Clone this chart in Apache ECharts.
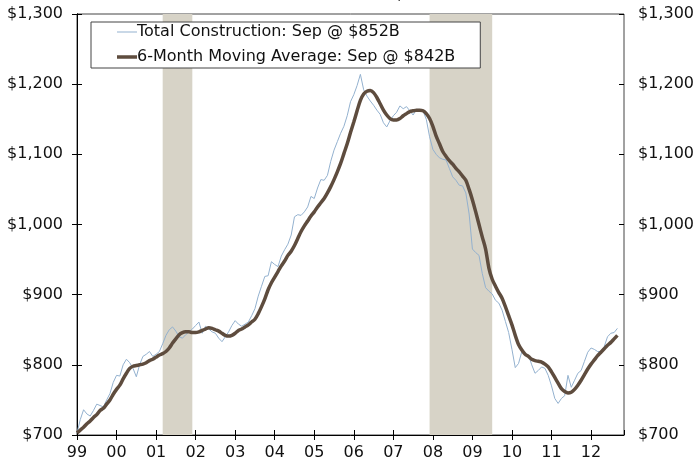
<!DOCTYPE html>
<html>
<head>
<meta charset="utf-8">
<script src="https://cdn.jsdelivr.net/npm/echarts@6/dist/echarts.min.js"></script>
<style>
  html, body { margin: 0; padding: 0; background: #fff; }
  #chart { width: 693px; height: 465px; }
</style>
</head>
<body>
<div id="chart"></div>
<script>
  // months counted from Jan 1999 (index 0) to Sep 2012 (index 164)
  const yearTicks = ['99', '00', '01', '02', '03', '04', '05', '06', '07', '08', '09', '10', '11', '12'];
  const yTicks = [700, 800, 900, 1000, 1100, 1200, 1300];

  // Total construction, billions of dollars, monthly
  const totalConstruction = [
    703, 722, 736, 730, 727, 735, 744, 742, 740, 750, 759, 775,
    785, 784, 800, 808, 803, 795, 783, 800, 812, 815, 819, 812,
    815, 819, 830, 842, 850, 854, 848, 840, 838, 843, 847, 851,
    856, 861, 845, 855, 851, 847, 845, 838, 833, 840, 847, 856,
    863, 858, 855, 858, 861, 870, 880, 898, 912, 926, 927, 947,
    943, 940, 955, 964, 972, 985, 1011, 1014, 1013, 1018, 1025, 1040,
    1037, 1052, 1064, 1063, 1070, 1090, 1106, 1118, 1130, 1140, 1155, 1175,
    1185, 1198, 1214, 1192, 1183, 1176, 1170, 1163, 1157, 1145, 1139, 1148,
    1155, 1160, 1169, 1165, 1168, 1162, 1156, 1164, 1164, 1162, 1150, 1125,
    1107, 1100, 1095, 1093, 1092, 1080, 1068, 1063, 1056, 1055, 1045, 1015,
    965, 960, 956, 930, 910, 905, 901, 892, 888, 878, 862, 846,
    822, 796, 802, 819, 815, 814, 800, 788, 792, 797, 795, 785,
    770, 752, 745, 752, 756, 785, 768, 778, 788, 792, 805, 818,
    824, 822, 819, 819, 826, 840, 845, 846, 852
  ];

  // 6-month moving average
  const movingAverage = [
    703, 707, 711, 716, 720, 725, 729, 735, 738, 744, 750, 758,
    765, 771, 780, 788, 795, 798, 799, 800, 801, 803, 806, 808,
    811, 814, 816, 819, 824, 831, 837, 843, 846, 847, 847, 846,
    846, 847, 849, 851, 853, 852, 850, 848, 845, 842, 841, 842,
    845, 849, 851, 854, 857, 861, 865, 873, 883, 894, 907, 917,
    925, 933, 941, 948, 956, 962, 970, 980, 990, 998, 1005, 1012,
    1018, 1025, 1031, 1037, 1045, 1054, 1064, 1075, 1087, 1101, 1115, 1131,
    1146, 1162, 1177, 1186, 1190, 1191, 1188, 1181, 1172, 1163, 1156, 1151,
    1149, 1149, 1151, 1155, 1158, 1161, 1162, 1163, 1163, 1162, 1158, 1151,
    1140, 1126, 1115, 1104, 1097, 1091, 1086, 1080, 1075, 1069, 1063, 1050,
    1035, 1018, 1000, 982, 965, 938, 922, 912, 903, 895, 883, 870,
    857, 842, 829, 821, 815, 812, 808, 806, 805, 804, 801, 797,
    790, 782, 774, 766, 762, 760, 761, 765, 771, 778, 786, 794,
    801, 807, 813, 818, 823, 828, 832, 837, 842
  ];

  // recessions, as month indexes [start, end]
  const recessions = [[26, 35], [107, 126]];

  const names = ['Total Construction: Sep @ $852B', '6-Month Moving Average: Sep @ $842B'];
  const colors = ['#93b1cf', '#5e4c3e'];

  const fontFamily = '"DejaVu Sans", Verdana, sans-serif';
  const money = v => '$' + v.toLocaleString('en-US');
  // line-shaped legend icons (corner specks keep the path from being stretched)
  const lineIcon = (y, h) => 'path://M0,0h0.01v0.01h-0.01z M19.99,13.99h0.01v0.01h-0.01z M0,' + y + 'h20v' + h + 'h-20z';

  let myChart = echarts.init(document.getElementById('chart'));

  const baseY = {
    type: 'value',
    min: yTicks[0],
    max: yTicks[yTicks.length - 1],
    interval: 100,
    splitLine: { show: false },
    axisLine: { show: true, lineStyle: { color: '#000', width: 1 } }
  };

  myChart.setOption({
    animation: false,
    title: {
      text: 'Billions of Dollars, SAAR',
      left: 350,
      textAlign: 'center',
      top: -18,
      textStyle: { fontFamily: fontFamily, fontSize: 16, fontWeight: 'normal', color: '#222' }
    },
    grid: {
      left: 77, right: 69, top: 14, bottom: 30,
      outerBoundsMode: 'none',
      containLabel: false,
      show: true, borderColor: '#444', borderWidth: 1, backgroundColor: 'transparent'
    },
    legend: {
      orient: 'vertical',
      left: 91,
      top: 22,
      padding: [2, 25, 3, 26],
      itemWidth: 20,
      itemHeight: 14,
      itemGap: 9,
      backgroundColor: '#fff',
      borderColor: '#444',
      borderWidth: 1,
      borderRadius: 0,
      textStyle: { fontFamily: fontFamily, fontSize: 16, lineHeight: 16, color: '#111', padding: [0, 0, 0, -5] },
      data: [
        { name: names[0], icon: lineIcon(6.5, 1), itemStyle: { color: colors[0] } },
        { name: names[1], icon: lineIcon(5.2, 3.6), itemStyle: { color: colors[1] } }
      ]
    },
    xAxis: [
      {
        type: 'value',
        min: 0,
        max: 166,
        interval: 12,
        splitLine: { show: false },
        axisLine: { onZero: false, lineStyle: { color: '#000', width: 1 } },
        axisTick: { length: 5, lineStyle: { color: '#000' } },
        axisLabel: {
          margin: 10,
          showMaxLabel: false,
          fontFamily: fontFamily, fontSize: 16, color: '#111',
          formatter: v => yearTicks[Math.round(v / 12)] || ''
        }
      },
      {
        type: 'value', position: 'bottom', min: 0, max: 166, interval: 12,
        splitLine: { show: false },
        axisLine: { show: false, onZero: false },
        axisTick: { inside: true, length: 5, lineStyle: { color: '#000' } },
        axisLabel: { show: false }
      }
    ],
    yAxis: [
      Object.assign({}, baseY, {
        position: 'left',
        axisTick: { length: 5, lineStyle: { color: '#000' } },
        axisLabel: { margin: 14, fontFamily: fontFamily, fontSize: 16, color: '#111', formatter: money }
      }),
      Object.assign({}, baseY, {
        position: 'right',
        axisTick: { length: 5, lineStyle: { color: '#000' } },
        axisLabel: { margin: 14, fontFamily: fontFamily, fontSize: 16, color: '#111', formatter: money }
      }),
      Object.assign({}, baseY, {
        position: 'left',
        axisLine: { show: false },
        axisTick: { inside: true, length: 5, lineStyle: { color: '#000' } },
        axisLabel: { show: false }
      }),
      Object.assign({}, baseY, {
        position: 'right',
        axisLine: { show: false },
        axisTick: { inside: true, length: 5, lineStyle: { color: '#000' } },
        axisLabel: { show: false }
      })
    ],
    series: [
      {
        name: 'recessions',
        type: 'line',
        data: [],
        z: 1,
        markArea: {
          silent: true,
          itemStyle: { color: '#d7d3c7' },
          data: recessions.map(r => [{ xAxis: r[0], yAxis: 1300 }, { xAxis: r[1], yAxis: 700 }])
        }
      },
      {
        name: names[0],
        type: 'line',
        z: 3,
        showSymbol: false,
        symbol: 'none',
        color: colors[0],
        lineStyle: { width: 1, color: colors[0] },
        data: totalConstruction.map((v, i) => [i, v])
      },
      {
        name: names[1],
        type: 'line',
        z: 4,
        showSymbol: false,
        symbol: 'none',
        smooth: 0.3,
        color: colors[1],
        lineStyle: { width: 3.5, color: colors[1] },
        data: movingAverage.map((v, i) => [i, v])
      }
    ]
  });
</script>
</body>
</html>
